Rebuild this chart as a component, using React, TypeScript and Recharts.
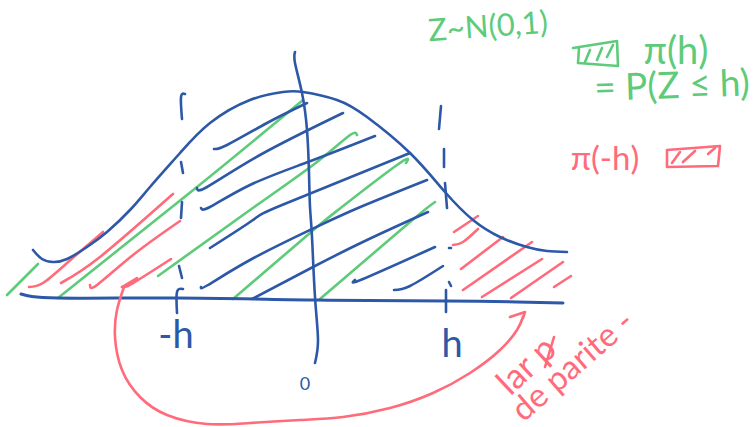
import React from 'react'
import { ComposedChart, Line, XAxis, YAxis, ReferenceDot } from 'recharts'

type Pt = [number, number]

const WIDTH = 755
const HEIGHT = 427
const BLUE = '#2d58a8'
const GREEN = '#5dcb7a'
const RED = '#ff6b7b'

// the bell curve, the axes and the tick marks
const bellCurve: Pt[] = [
  [33, 250], [42, 259], [53, 262], [67, 259], [87, 247], [107, 232], [130, 210], [150, 187],
  [180, 153], [210, 123], [250, 100], [283, 92], [303, 92], [337, 100], [367, 117], [410, 153],
  [445, 192], [473, 220], [500, 237], [527, 247], [547, 251], [567, 252],
]
const verticalAxis: Pt[] = [
  [295, 52], [295, 63], [302, 93], [307, 130], [309, 173], [310, 207], [312, 237], [315, 297], [318, 340], [315, 363],
]
const horizontalAxis: Pt[] = [
  [21, 294], [58, 298], [177, 298], [317, 300], [447, 301], [517, 302], [563, 303],
]
const dashes: Pt[][] = [
  [[185, 94], [181, 97], [182, 119]],
  [[181, 162], [183, 173]],
  [[182, 202], [181, 218]],
  [[179, 266], [182, 278]],
  [[183, 289], [177, 292], [177, 313]],
  [[441, 106], [439, 129]],
  [[444, 149], [444, 167]],
  [[445, 183], [447, 208]],
  [[449, 248], [451, 248]],
  [[449, 282], [451, 286]],
  [[446, 290], [446, 312]],
]

// shading strokes
const blueHatches: Pt[][] = [
  [[214, 149], [227, 145], [267, 123], [307, 103]],
  [[197, 188], [207, 187], [260, 155], [343, 113]],
  [[201, 208], [210, 207], [250, 185], [308, 162], [375, 136]],
  [[210, 248], [253, 220], [282, 205], [410, 153]],
  [[201, 287], [208, 285], [250, 260], [310, 230], [358, 208], [427, 180]],
  [[252, 299], [313, 267], [367, 240], [428, 212]],
  [[355, 280], [363, 279], [435, 247]],
  [[394, 290], [410, 286], [443, 266]],
]
const greenHatches: Pt[][] = [
  [[7, 295], [38, 264]],
  [[58, 298], [197, 187], [303, 100]],
  [[158, 276], [250, 210], [317, 162], [350, 135], [357, 135]],
  [[233, 299], [310, 233], [338, 210], [397, 165], [406, 163]],
  [[320, 299], [410, 222], [435, 202]],
]
const redHatches: Pt[][] = [
  [[29, 287], [43, 283], [67, 263], [103, 232]],
  [[61, 283], [100, 257], [173, 194]],
  [[90, 285], [97, 285], [133, 255], [180, 221]],
  [[122, 287], [133, 283], [171, 259]],
  [[454, 232], [478, 216]],
  [[453, 245], [463, 242], [478, 229]],
  [[461, 269], [503, 237]],
  [[463, 290], [532, 242]],
  [[482, 297], [542, 259]],
  [[511, 298], [563, 262]],
  [[554, 287], [571, 276]],
]

// the arrow under the axis, its two heads, and the stroke through the p
const arrowCurve: Pt[] = [
  [124, 287], [117, 310], [115, 337], [122, 370], [140, 397], [167, 415], [207, 424], [250, 423],
  [300, 420], [343, 417], [390, 408], [433, 393], [470, 373], [500, 350], [517, 330], [523, 317],
]
const arrowHeads: Pt[][] = [
  [[122, 287], [137, 278], [128, 286]],
  [[510, 317], [525, 312], [523, 318]],
]
const strikeThrough: Pt[] = [[554, 337], [545, 367]]

// legend swatches
const greenSwatch: Pt[] = [[573, 48], [617, 41], [618, 66], [578, 63], [579, 48]]
const greenSwatchHatches: Pt[][] = [
  [[585, 62], [590, 50]],
  [[597, 60], [602, 48]],
  [[607, 57], [613, 45]],
]
const redSwatch: Pt[] = [[667, 150], [720, 146], [718, 166], [667, 167], [667, 150]]
const redSwatchHatches: Pt[][] = [
  [[672, 163], [680, 152]],
  [[683, 162], [695, 151]],
  [[708, 154], [715, 148]],
]

const annotations = [
  { x: 488, y: 26, text: 'Z~N(0,1)', color: GREEN, size: 31, angle: -4 },
  { x: 676, y: 51, text: 'π(h)', color: GREEN, size: 38, angle: 0 },
  { x: 672, y: 85, text: '= P(Z ≤ h)', color: GREEN, size: 37, angle: -2 },
  { x: 605, y: 158, text: 'π(-h)', color: RED, size: 33, angle: 0 },
  { x: 176, y: 335, text: '-h', color: BLUE, size: 38, angle: 0 },
  { x: 452, y: 344, text: 'h', color: BLUE, size: 38, angle: 0 },
  { x: 305, y: 384, text: '0', color: BLUE, size: 18, angle: 0 },
  { x: 526, y: 365, text: 'lar p', color: RED, size: 35, angle: -43 },
  { x: 572, y: 365, text: 'de parite -', color: RED, size: 33, angle: -41 },
]

const toPoints = (stroke: Pt[]) => stroke.map(([x, y]) => ({ x, y }))

const drawStrokes = (name: string, strokes: Pt[][], color: string, curve: 'natural' | 'linear' = 'natural', width = 2.6) =>
  strokes.map((stroke, i) => (
    <Line
      key={`${name}-${i}`}
      data={toPoints(stroke)}
      dataKey="y"
      type={curve}
      stroke={color}
      strokeWidth={width}
      strokeLinecap="round"
      strokeLinejoin="round"
      dot={false}
      activeDot={false}
      legendType="none"
      isAnimationActive={false}
    />
  ))

export default function App() {
  return (
    <div style={{ position: 'absolute', left: 0, top: 0, width: WIDTH, height: HEIGHT, background: '#fff' }}>
      <ComposedChart width={WIDTH} height={HEIGHT} margin={{ top: 0, right: 0, bottom: 0, left: 0 }}>
        <XAxis type="number" dataKey="x" domain={[0, WIDTH]} hide allowDataOverflow />
        <YAxis type="number" domain={[0, HEIGHT]} reversed hide allowDataOverflow />
        {drawStrokes('green', greenHatches, GREEN)}
        {drawStrokes('red', redHatches, RED)}
        {drawStrokes('blue', blueHatches, BLUE)}
        {drawStrokes('bell', [bellCurve], BLUE)}
        {drawStrokes('vaxis', [verticalAxis], BLUE)}
        {drawStrokes('haxis', [horizontalAxis], BLUE, 'natural', 3)}
        {drawStrokes('dash', dashes, BLUE)}
        {drawStrokes('arrow', [arrowCurve], RED)}
        {drawStrokes('head', arrowHeads, RED, 'linear')}
        {drawStrokes('strike', [strikeThrough], RED, 'linear')}
        {drawStrokes('gswatch', [greenSwatch], GREEN, 'linear')}
        {drawStrokes('gswatchh', greenSwatchHatches, GREEN, 'linear')}
        {drawStrokes('rswatch', [redSwatch], RED, 'linear')}
        {drawStrokes('rswatchh', redSwatchHatches, RED, 'linear')}
        {annotations.map(a => (
          <ReferenceDot
            key={a.text}
            x={a.x}
            y={a.y}
            r={0}
            fill="none"
            stroke="none"
            label={{
              value: a.text,
              position: 'center',
              fill: a.color,
              fontSize: a.size,
              angle: a.angle,
              fontFamily: 'Lato, "Open Sans", sans-serif',
            }}
          />
        ))}
      </ComposedChart>
    </div>
  )
}
